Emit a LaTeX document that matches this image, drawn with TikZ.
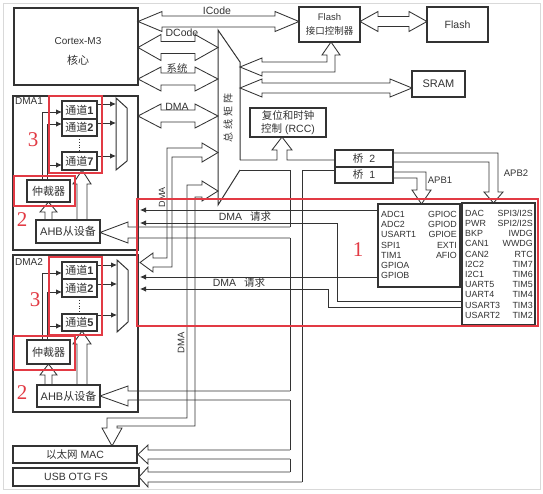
\documentclass[tikz,border=0pt]{standalone}
\usepackage{fontspec}
\setmainfont{Liberation Sans}
\newfontfamily\cjk{Noto Sans CJK SC}
\newfontfamily\numfont{Liberation Serif}
\usetikzlibrary{arrows.meta}
\definecolor{ln}{HTML}{333333}
\definecolor{rd}{HTML}{E23A44}
\newcommand\zh[1]{{\cjk #1}}
% horizontal double-headed hollow arrow: x1,x2,y,stem half,head half,head length
\newcommand\hdarr[6]{%
  \draw[wire] (#1,#3) -- ({#1+#6},{#3-#5}) -- ({#1+#6},{#3-#4}) -- ({#2-#6},{#3-#4}) -- ({#2-#6},{#3-#5}) -- (#2,#3) -- ({#2-#6},{#3+#5}) -- ({#2-#6},{#3+#4}) -- ({#1+#6},{#3+#4}) -- ({#1+#6},{#3+#5}) -- cycle;}
% box: [opts]{name}{x1}{y1}{x2}{y2}{text}
\newcommand\bx[7][]{\node[boxst,#1,minimum width={(#5-#3)*1pt},minimum height={(#6-#4)*1pt}] (#2) at ({(#3+#5)/2},{(#4+#6)/2}) {#7};}
\begin{document}
\begin{tikzpicture}[x=1pt,y=-1pt,
  boxst/.style={draw=ln,line width=1.1pt,inner sep=0pt,outer sep=0pt,align=center,text=ln,font=\fontsize{10.5}{13}\selectfont},
  wire/.style={draw=ln,line width=0.85pt},
  arr/.style={wire,-{Latex[length=6pt,width=5.5pt]}},
  redbox/.style={draw=rd,line width=1.4pt},
  lbl/.style={inner sep=0pt,font=\fontsize{10.5}{12}\selectfont,text=ln},
  small/.style={inner sep=0pt,font=\fontsize{8.9}{10}\selectfont,text=ln},
  rnum/.style={inner sep=0pt,text=rd,font=\numfont\fontsize{21}{21}\selectfont}]

\useasboundingbox (0,0) rectangle (543,493);
\fill[white] (0,0) rectangle (543,493);
\draw[gray!30,line width=0.8pt] (3,3) rectangle (540,489);

% ---------- top boxes ----------
\bx{cm}{14}{8}{138}{85}{}
\node[lbl,font=\fontsize{10}{11}\selectfont] (cmt) at (78,41) {Cortex-M3};
\node[lbl,font=\fontsize{11}{12}\selectfont] (cmz) at (78,60) {\zh{核心}};
\bx[font=\fontsize{9.5}{14}\selectfont]{fic}{299}{7}{360}{42}{Flash\\\zh{接口控制器}}
\bx[font=\fontsize{10.5}{12}\selectfont]{fl}{427}{7}{488}{42}{Flash}
\bx[font=\fontsize{11}{12}\selectfont,line width=1.4pt]{sram}{412}{71}{465}{97}{SRAM}
\bx[font=\fontsize{10.5}{13.5}\selectfont]{rcc}{250}{108}{326}{137}{\zh{复位和时钟}\\\zh{控制} (RCC)}
\bx{b2}{335}{150}{393}{167}{\zh{桥}\hspace{6pt}2}
\bx{b1}{335}{167}{393}{183}{\zh{桥}\hspace{6pt}1}

% ---------- core buses ----------
\hdarr{138}{299}{21.5}{5.5}{10}{24}
\node[lbl] (icl) at (217,11) {ICode};
\hdarr{138}{218}{47.5}{6}{13}{23}
\node[lbl] (dcl) at (182,33) {DCode};
\hdarr{138}{218}{79}{6}{12}{23}
\node[lbl] (sysl) at (177,68) {\zh{系统}};
\hdarr{138}{218}{116}{6}{12}{23}
\node[lbl] (dmal) at (177,107) {DMA};

% bus matrix
\draw[wire,line width=1pt] (240,160) -- (240,62) -- (218,30) -- (218,205) -- (240,170);
\node[inner sep=0pt,rotate=90,font=\fontsize{10}{12}\selectfont,text=ln] (bm) at (228,118) {\zh{总\hspace{3pt}线\hspace{3pt}矩\hspace{3pt}阵}};

% flash interface / sram / flash
\draw[wire] (327,55) -- (322,55) -- (331,42) -- (340,55) -- (335,55) -- (335,72) -- (262,72) -- (262,76) -- (240,67) -- (262,58) -- (262,62) -- (327,62) -- cycle;
\hdarr{240}{412}{88}{5}{9}{22}
\hdarr{360}{427}{21.5}{5}{10}{18}

% RCC and bridges bus
\draw[wire] (240,160) -- (277,160) -- (277,150) -- (272,150) -- (282,137) -- (292,150) -- (287,150) -- (287,160) -- (335,160);
\draw[wire] (240,170) -- (290,170) -- (290,227);
\draw[wire] (290,238) -- (290,391);
\draw[wire] (290,400) -- (290,450);
\draw[wire] (290,459) -- (290,472);
\draw[wire] (335,170) -- (302,170) -- (302,482);

% APB buses
\draw[wire] (393,153) -- (498,153) -- (498,192) -- (503,192) -- (493.5,203) -- (484,192) -- (489,192) -- (489,162) -- (393,162);
\draw[wire] (393,172) -- (426,172) -- (426,190) -- (431,190) -- (421.5,204) -- (412,190) -- (417,190) -- (417,178) -- (393,178);
\node[lbl,font=\fontsize{9.5}{11}\selectfont] (apb1l) at (440,180) {APB1};
\node[lbl,font=\fontsize{9.5}{11}\selectfont] (apb2l) at (516,173) {APB2};

% APB boxes
\bx{apb1}{378}{204}{460}{287}{}
\bx{apb2}{462}{203}{535}{325}{}
\foreach \t [count=\i] in {ADC1,ADC2,USART1,SPI1,TIM1,GPIOA,GPIOB}
  \node[small,anchor=base west] (pa\i) at (381,{207.3+10.2*\i}) {\t};
\foreach \t [count=\i] in {GPIOC,GPIOD,GPIOE,EXTI,AFIO}
  \node[small,anchor=base east] (pb\i) at (457,{207.3+10.2*\i}) {\t};
\foreach \t [count=\i] in {DAC,PWR,BKP,CAN1,CAN2,I2C2,I2C1,UART5,UART4,USART3,USART2}
  \node[small,anchor=base west] (pc\i) at (465,{206+10.2*\i}) {\t};
\foreach \t [count=\i] in {SPI3/I2S,SPI2/I2S,IWDG,WWDG,RTC,TIM7,TIM6,TIM5,TIM4,TIM3,TIM2}
  \node[small,anchor=base east] (pd\i) at (533,{206+10.2*\i}) {\t};

% DMA requests
\draw[arr] (378,210) -- (140,210);
\draw[arr] (462,301) -- (337,301) -- (337,223) -- (140,223);
\draw[arr] (378,277) -- (140,277);
\draw[arr] (462,307) -- (328,307) -- (328,289) -- (140,289);
\node[lbl] (rq1) at (245,217) {DMA\hspace{8pt}\zh{请求}};
\node[lbl] (rq2) at (239,283) {DMA\hspace{8pt}\zh{请求}};

% DMA2 bus and Ethernet DMA bus
\draw[wire] (167,148) -- (202,148) -- (202,143) -- (218,152.5) -- (202,162) -- (202,157) -- (172,157) -- (172,267) -- (153,267) -- (153,272) -- (140,262.5) -- (153,253) -- (153,258) -- (167,258) -- cycle;
\draw[wire] (187,185) -- (202,185) -- (202,181) -- (218,191) -- (202,201) -- (202,197) -- (195,197) -- (195,426) -- (117,426) -- (117,428) -- (122,428) -- (112,446) -- (102,428) -- (107,428) -- (107,418) -- (187,418) -- cycle;
\node[lbl,rotate=90,font=\fontsize{9}{10}\selectfont] (dv1) at (162,197) {DMA};
\node[lbl,rotate=90,font=\fontsize{9.5}{10}\selectfont] (dv2) at (181,343) {DMA};

% ---------- DMA1 ----------
\bx{dma1}{13}{96}{138}{250}{}
\node[lbl,anchor=west,font=\fontsize{10}{12}\selectfont] (d1l) at (15,101) {DMA1};
\bx[font=\fontsize{11}{12}\selectfont]{c11}{62}{101}{97}{119}{\zh{通道}\textbf{1}}
\bx[font=\fontsize{11}{12}\selectfont]{c12}{62}{119}{97}{136}{\zh{通道}\textbf{2}}
\bx[font=\fontsize{11}{12}\selectfont]{c17}{62}{152}{97}{170}{\zh{通道}\textbf{7}}
\draw[wire,dotted] (c12.south) -- (c17.north);
\draw[wire,line width=1pt] (116,98) -- (127,108) -- (127,161) -- (116,170) -- cycle;
\draw[arr] (97,104) -- (116,104);
\draw[arr] (97,123) -- (116,123);
\draw[arr] (97,156) -- (116,156);
\bx[font=\fontsize{11}{12}\selectfont]{arb1}{27}{180}{70}{202}{\zh{仲裁器}}
\draw[arr] (42,180) |- (62,112);
\draw[arr] (47,180) |- (62,124);
\draw[arr] (47,165) -- (62,165);
\bx[font=\fontsize{11}{12}\selectfont]{ahb1}{36}{220}{100}{243}{AHB\zh{从设备}}
\draw[wire] (45,220) -- (45,212) -- (40,212) -- (48.5,202) -- (57,212) -- (52,212) -- (52,220);
\draw[wire] (77,220) -- (77,184) -- (73,184) -- (82,170) -- (91,184) -- (87,184) -- (87,220);
\draw[wire] (290,227) -- (128,227) -- (128,222) -- (100,232.5) -- (128,243) -- (128,238) -- (290,238);
\draw[redbox] (49,96) rectangle (102,173);
\draw[redbox] (14,176) rectangle (75,206);
\node[rnum] (n3a) at (33,140) {3};
\node[rnum] (n2a) at (22,220) {2};

% ---------- DMA2 ----------
\bx{dma2}{13}{255}{138}{412}{}
\node[lbl,anchor=west,font=\fontsize{10}{12}\selectfont] (d2l) at (15,262) {DMA2};
\bx[font=\fontsize{11}{12}\selectfont]{c21}{62}{262}{97}{279}{\zh{通道}\textbf{1}}
\bx[font=\fontsize{11}{12}\selectfont]{c22}{62}{279}{97}{297}{\zh{通道}\textbf{2}}
\bx[font=\fontsize{11}{12}\selectfont]{c25}{62}{314}{97}{331}{\zh{通道}\textbf{5}}
\draw[wire,dotted] (c22.south) -- (c25.north);
\draw[wire,line width=1pt] (117,260) -- (128,270) -- (128,322) -- (117,332) -- cycle;
\draw[arr] (97,265) -- (117,265);
\draw[arr] (97,284) -- (117,284);
\draw[arr] (97,315) -- (117,315);
\bx[font=\fontsize{11}{12}\selectfont]{arb2}{27}{340}{70}{364}{\zh{仲裁器}}
\draw[arr] (42,340) |- (62,273);
\draw[arr] (47,340) |- (62,292);
\draw[arr] (47,326) -- (62,326);
\bx[font=\fontsize{11}{12}\selectfont]{ahb2}{37}{385}{100}{407}{AHB\zh{从设备}}
\draw[wire] (45,385) -- (45,375) -- (40,375) -- (48.5,364) -- (57,375) -- (52,375) -- (52,385);
\draw[wire] (77,385) -- (77,344) -- (73,344) -- (82,331) -- (91,344) -- (87,344) -- (87,385);
\draw[wire] (290,391) -- (128,391) -- (128,386) -- (100,396) -- (128,406) -- (128,400) -- (290,400);
\draw[redbox] (49,257) rectangle (102,335);
\draw[redbox] (14,336) rectangle (75,370);
\node[rnum] (n3b) at (35,300) {3};
\node[rnum] (n2b) at (22,393) {2};

% ---------- Ethernet / USB ----------
\bx[font=\fontsize{10.5}{12}\selectfont]{eth}{13}{446}{137}{463}{\zh{以太网} MAC}
\bx[font=\fontsize{10.5}{12}\selectfont]{usb}{13}{468}{139}{486}{USB OTG FS}
\draw[wire] (290,450) -- (148,450) -- (148,445) -- (138,454.5) -- (148,464) -- (148,459) -- (290,459);
\draw[wire] (290,472) -- (148,472) -- (148,467) -- (139,477) -- (148,487) -- (148,482) -- (302,482);

% ---------- red box 1 ----------
\draw[redbox] (137,199) rectangle (538,326);
\node[rnum] (n1) at (358,250) {1};
\end{tikzpicture}
\end{document}
